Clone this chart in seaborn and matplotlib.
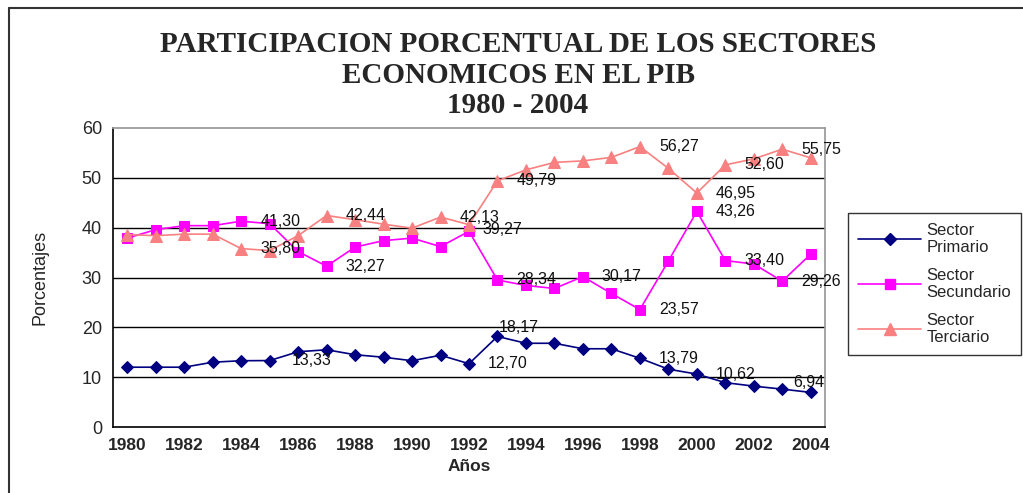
import matplotlib
matplotlib.use("Agg")
import matplotlib.pyplot as plt
from matplotlib.lines import Line2D
import seaborn as sns
import pandas as pd

years = list(range(1980, 2005))
primario = [12.0, 12.0, 12.0, 13.0, 13.3, 13.33, 15.1, 15.5, 14.5, 14.0, 13.3, 14.4, 12.70,
            18.17, 16.8, 16.8, 15.7, 15.7, 13.79, 11.6, 10.62, 8.9, 8.2, 7.6, 6.94]
secundario = [37.9, 39.6, 40.4, 40.4, 41.30, 40.8, 35.2, 32.27, 36.1, 37.4, 37.9, 36.2, 39.27,
              29.5, 28.4, 27.8, 30.17, 26.8, 23.57, 33.3, 43.26, 33.40, 32.7, 29.26, 34.7]
terciario = [38.6, 38.4, 38.7, 38.7, 35.80, 35.4, 38.4, 42.44, 41.6, 40.7, 39.9, 42.13, 40.6,
             49.4, 51.6, 53.1, 53.4, 54.1, 56.27, 51.9, 46.95, 52.60, 53.8, 55.75, 54.0]
series_names = ["Sector\nPrimario", "Sector\nSecundario", "Sector\nTerciario"]
colors = ["#000080", "#FF00FF", "#F98080"]
markers = ["D", "s", "^"]
msizes = [6.5, 7.5, 9]

# data labels: (series index, year, text)
labels = [
    (1, 1984, "41,30"), (2, 1984, "35,80"), (2, 1987, "42,44"), (1, 1987, "32,27"),
    (2, 1991, "42,13"), (1, 1992, "39,27"), (2, 1993, "49,79"), (1, 1993, "28,34"),
    (1, 1996, "30,17"), (1, 1998, "23,57"), (2, 1998, "56,27"), (2, 2000, "46,95"),
    (1, 2000, "43,26"), (2, 2001, "52,60"), (1, 2001, "33,40"), (2, 2003, "55,75"),
    (1, 2003, "29,26"), (0, 1985, "13,33"), (0, 1992, "12,70"), (0, 1993, "18,17"),
    (0, 1998, "13,79"), (0, 2000, "10,62"), (0, 2004, "6,94"),
]
label_offsets = {(0, 1993): (1, 9), (0, 2004): (-18, 10), (1, 1992): (13, 2), (0, 1985): (22, 0)}

title = "PARTICIPACION PORCENTUAL DE LOS SECTORES\nECONOMICOS EN EL PIB\n1980 - 2004"

sns.set_theme(style="white")
plt.rcParams["font.family"] = ["Liberation Sans", "DejaVu Sans"]

values = [primario, secundario, terciario]
df = pd.DataFrame({
    "year": years * 3,
    "value": primario + secundario + terciario,
    "serie": sum([[n] * len(years) for n in series_names], []),
})

W, H = 1023, 493
fig = plt.figure(figsize=(W / 100, H / 100), dpi=100)
ax = fig.add_axes([113 / W, 1 - 427 / H, (825 - 113) / W, (427 - 128) / H])

for i, name in enumerate(series_names):
    sub = df[df["serie"] == name]
    sns.lineplot(data=sub, x="year", y="value", ax=ax, color=colors[i], marker=markers[i],
                 markersize=msizes[i], markeredgecolor=colors[i], linewidth=1.2,
                 label=name, legend=False)

ax.set_xlim(1979.5, 2004.5)
ax.set_ylim(0, 60)
ax.set_yticks(range(0, 61, 10))
ax.set_xticks(years, minor=False)
ax.set_xticklabels([str(y) if y % 2 == 0 else "" for y in years])
ax.tick_params(axis="x", direction="out", length=5, width=1, color="black", labelsize=12.5, pad=3)
ax.tick_params(axis="y", direction="out", length=5, width=1, color="black", labelsize=13, pad=3)
for t in ax.get_xticklabels():
    t.set_fontweight("bold")
ax.grid(False)
for yv in range(10, 60, 10):
    ax.axhline(yv, color="black", linewidth=1.0, zorder=0)
ax.spines["left"].set_color("black")
ax.spines["bottom"].set_color("black")
ax.spines["left"].set_linewidth(1.2)
ax.spines["bottom"].set_linewidth(1.2)
ax.spines["top"].set_color("#999999")
ax.spines["right"].set_color("#999999")
ax.set_xlabel("Años", fontsize=12.5, fontweight="bold", labelpad=4)
ax.set_ylabel("Porcentajes", fontsize=13, labelpad=24)

for si, yr, txt in labels:
    v = values[si][years.index(yr)]
    dx, dy = label_offsets.get((si, yr), (19, 0))
    ax.annotate(txt, xy=(yr, v), xytext=(dx, dy), textcoords="offset pixels",
                ha="left", va="center", fontsize=11.5, color="#111111", zorder=5)

fig.text(518 / W, 1 - 31 / H, title, ha="center", va="top", fontsize=21,
         fontweight="bold", family=["Liberation Serif"], linespacing=1.17)

handles = [Line2D([0], [0], color=colors[i], marker=markers[i], markersize=msizes[i],
                  markeredgecolor=colors[i], linewidth=1.2) for i in range(3)]
leg = fig.legend(handles, series_names, loc="upper left",
                 bbox_to_anchor=(848 / W, 1 - 213 / H), borderaxespad=0,
                 fontsize=12, frameon=True, fancybox=False, edgecolor="black",
                 handlelength=3.8, labelspacing=0.75, borderpad=0.6, handletextpad=0.3)
leg.get_frame().set_linewidth(1.0)

fig.add_artist(Line2D([9 / W, 9 / W], [0, 1 - 8 / H], color="#333333", linewidth=1.5))
fig.add_artist(Line2D([9 / W, 1], [1 - 8 / H, 1 - 8 / H], color="#333333", linewidth=1.5))

fig.savefig("out.png", dpi=100)
